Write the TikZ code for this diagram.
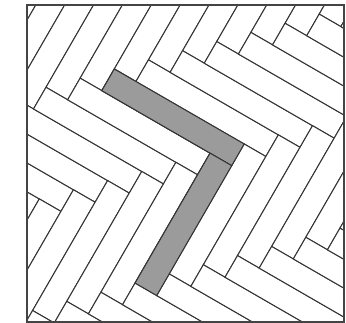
\documentclass[tikz,border=0pt]{standalone}
\definecolor{edge}{HTML}{333333}
\definecolor{shade}{HTML}{9B9B9B}
\definecolor{framec}{HTML}{444444}
\tikzset{
  plank/.style={draw=edge, fill=white, line width=1pt, line join=miter},
  grayplank/.style={draw=edge, fill=shade, line width=1pt},
  framebox/.style={draw=framec, line width=1.2pt}
}
\begin{document}
\begin{tikzpicture}[x=1pt,y=1pt]
\useasboundingbox (0,0) rectangle (346,323);
\begin{scope}
\clip (27,1) rectangle (344,318);
\begin{scope}[shift={(114.3,254)}, rotate=-30, yscale=-1]
\foreach \j in {-3,...,3}{
  \foreach \k in {-12,...,12}{
    \pgfmathsetmacro\U{25*\k+150*\j}
    \pgfmathsetmacro\V{-25*\k+150*\j}
    \draw[plank] (\U,\V) rectangle ++(150,25);
    \draw[plank] (\U+125,\V+25) rectangle ++(25,150);
  }
}
\draw[grayplank] (0,0) rectangle (150,25);
\draw[grayplank] (125,25) rectangle (150,175);
\end{scope}
\end{scope}
\draw[framebox] (27,1) rectangle (344,318);
\end{tikzpicture}
\end{document}
